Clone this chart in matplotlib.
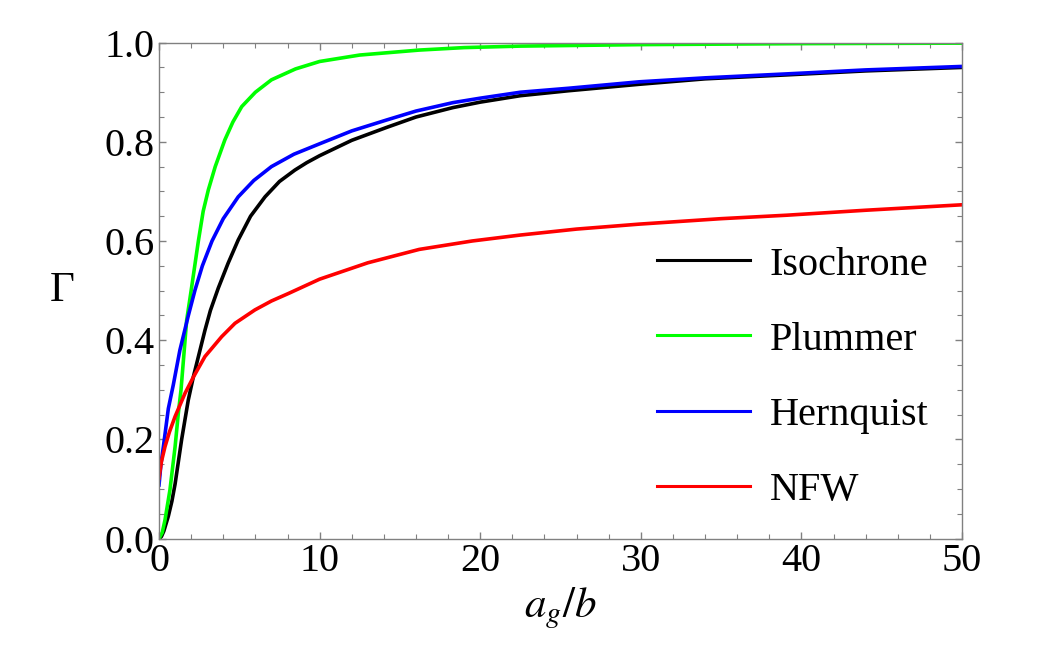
import numpy as np
import matplotlib
matplotlib.use('Agg')
import matplotlib.pyplot as plt
from matplotlib.ticker import MultipleLocator

plt.rcParams['font.family'] = ['Liberation Serif', 'DejaVu Serif']
plt.rcParams['mathtext.fontset'] = 'stix'

# values
iso_x = [0, 0.15, 0.3, 0.58, 0.8, 1.0, 1.41, 1.82, 2.13, 2.86, 3.2, 3.69, 4.3, 4.93, 5.7, 6.6, 7.5,
         8.46, 9.2, 10.0, 12.0, 14.17, 16.0, 18.3, 20.0, 22.5, 25.5, 29.9, 34.0, 39.1, 44.0, 50]
iso_y = [0, 0.004, 0.015, 0.045, 0.075, 0.11, 0.2, 0.279, 0.325, 0.42, 0.46, 0.505, 0.555, 0.602, 0.65, 0.689, 0.72,
         0.743, 0.758, 0.772, 0.803, 0.829, 0.85, 0.869, 0.88, 0.893, 0.903, 0.916, 0.927, 0.935, 0.943, 0.950]

plu_x = [0, 0.2, 0.37, 0.68, 1.0, 1.2, 1.37, 1.72, 2.0, 2.45, 2.75, 3.07, 3.5, 4.1, 4.6, 5.15, 6.0,
         7.0, 8.5, 10.0, 12.5, 16.2, 19.0, 22.5, 30, 40, 50]
plu_y = [0, 0.012, 0.037, 0.098, 0.185, 0.252, 0.30, 0.44, 0.50, 0.60, 0.66, 0.703, 0.75, 0.804, 0.84, 0.871, 0.900,
         0.925, 0.947, 0.962, 0.975, 0.985, 0.990, 0.993, 0.996, 0.998, 0.999]

her_x = [0, 0.12, 0.27, 0.58, 0.89, 1.3, 1.82, 2.24, 2.7, 3.3, 4.0, 4.93, 5.9, 7.0, 8.4, 10.0, 12.0,
         14.17, 16.0, 18.3, 20.0, 22.5, 25.5, 29.9, 34.0, 39.1, 44.0, 50]
her_y = [0.108, 0.15, 0.185, 0.262, 0.31, 0.38, 0.449, 0.501, 0.55, 0.6, 0.645, 0.689, 0.722, 0.750, 0.775, 0.796, 0.822,
         0.844, 0.862, 0.879, 0.888, 0.900, 0.908, 0.921, 0.929, 0.937, 0.945, 0.952]

nfw_x = [0, 0.15, 0.37, 0.65, 1.0, 1.62, 2.13, 2.86, 3.9, 4.73, 5.97, 7.0, 8.05, 10.0, 13.0, 16.2,
         19.5, 22.5, 26.0, 29.9, 35.0, 39.1, 44.0, 50]
nfw_y = [0.122, 0.155, 0.185, 0.215, 0.246, 0.293, 0.325, 0.367, 0.407, 0.434, 0.461, 0.479, 0.494, 0.523, 0.556, 0.583,
         0.600, 0.612, 0.624, 0.634, 0.645, 0.652, 0.662, 0.673]

labels = ['Isochrone', 'Plummer', 'Hernquist', 'NFW']
colors = ['black', '#00ff00', '#0000ff', '#ff0000']

fig = plt.figure(figsize=(10.63, 6.46), dpi=100)
ax = fig.add_axes([0.1496, 0.1664, 0.7554, 0.7676])

series = [(iso_x, iso_y), (plu_x, plu_y), (her_x, her_y), (nfw_x, nfw_y)]
for (xs, ys), lab, c in zip(series, labels, colors):
    ax.plot(xs, ys, color=c, lw=2.6, label=lab, solid_joinstyle='round')

ax.set_xlim(0, 50)
ax.set_ylim(0, 1)
ax.xaxis.set_major_locator(MultipleLocator(10))
ax.xaxis.set_minor_locator(MultipleLocator(2))
ax.yaxis.set_major_locator(MultipleLocator(0.2))
ax.yaxis.set_minor_locator(MultipleLocator(0.05))
ax.xaxis.set_major_formatter(plt.FuncFormatter(lambda v, p: f'{v:.0f}'))
ax.yaxis.set_major_formatter(plt.FuncFormatter(lambda v, p: f'{v:.1f}'))

for s in ax.spines.values():
    s.set_color('#808080')
    s.set_linewidth(1)
ax.tick_params(which='both', direction='in', top=True, right=True, color='#808080', labelsize=29, pad=3)
ax.tick_params(which='major', length=5, width=1)
ax.tick_params(which='minor', length=3.5, width=0.8)

ax.set_xlabel('$a_g/b$', fontsize=31, labelpad=4)
ax.set_ylabel('Γ', fontsize=31, rotation=0, va='center', ha='center')
ax.yaxis.set_label_coords(-0.12, 0.5)

leg = ax.legend(loc='center left', bbox_to_anchor=(0.618, 0.4156), bbox_transform=fig.transFigure,
                frameon=False, fontsize=29, handlelength=2.3, handletextpad=0.5,
                labelspacing=0.94, borderpad=0, borderaxespad=0)
for h in leg.get_lines():
    h.set_linewidth(2.2)

fig.savefig('out.png', dpi=100)
